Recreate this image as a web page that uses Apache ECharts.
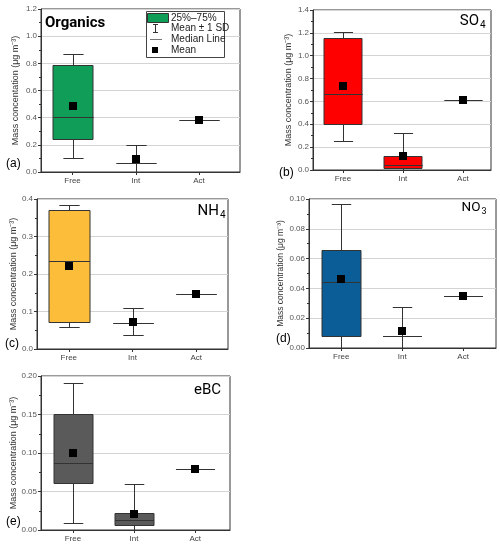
<!DOCTYPE html>
<html><head><meta charset="utf-8">
<script src="https://cdn.jsdelivr.net/npm/echarts@6/dist/echarts.min.js"></script>
<style>html,body{margin:0;padding:0;background:#fff}#c{width:500px;height:546px}</style>
</head><body><div id="c"></div>
<script>
const cats = ['Free', 'Int', 'Act'];

// Organics (a)
const orgQ1 = [0.241, 0.069, 0.385];
const orgMedian = [0.403, 0.069, 0.385];
const orgQ3 = [0.789, 0.069, 0.385];
const orgMean = [0.485, 0.099, 0.386];
const orgSD = [0.384, 0.098, 0];
// SO4 (b)
const so4Q1 = [0.405, 0.015, 0.615];
const so4Median = [0.662, 0.040, 0.615];
const so4Q3 = [1.155, 0.125, 0.615];
const so4Mean = [0.732, 0.122, 0.616];
const so4SD = [0.474, 0.205, 0];
// NH4 (c)
const nh4Q1 = [0.071, 0.070, 0.147];
const nh4Median = [0.234, 0.070, 0.147];
const nh4Q3 = [0.372, 0.070, 0.147];
const nh4Mean = [0.221, 0.073, 0.148];
const nh4SD = [0.163, 0.0355, 0];
// NO3 (d)
const no3Q1 = [0.0081, 0.0081, 0.035];
const no3Median = [0.0444, 0.0081, 0.035];
const no3Q3 = [0.0655, 0.0081, 0.035];
const no3Mean = [0.0462, 0.0112, 0.035];
const no3SD = [0.0507, 0.0166, 0];
// eBC (e)
const ebcQ1 = [0.0615, 0.0069, 0.079];
const ebcMedian = [0.0864, 0.0125, 0.079];
const ebcQ3 = [0.151, 0.022, 0.079];
const ebcMean = [0.1005, 0.0207, 0.079];
const ebcSD = [0.091, 0.0393, 0];

const yTitleA = 'Mass concentation (μg m⁻³)';
const yTitle = 'Mass concentration (μg m⁻³)';

const panels = [
  {q1: orgQ1, med: orgMedian, q3: orgQ3, mean: orgMean, sd: orgSD, color: '#0f9d58',
   grid: {left: 41, top: 9, width: 199, height: 163}, xr: [0.5, 3.65], ymax: 1.2, yint: 0.2, dec: 1,
   yname: yTitleA, nameGap: 21, nameSize: 9},
  {q1: so4Q1, med: so4Median, q3: so4Q3, mean: so4Mean, sd: so4SD, color: '#ff0000',
   grid: {left: 313, top: 10, width: 178, height: 160}, xr: [0.5, 3.47], ymax: 1.4, yint: 0.2, dec: 1,
   yname: yTitle, nameGap: 20, nameSize: 9},
  {q1: nh4Q1, med: nh4Median, q3: nh4Q3, mean: nh4Mean, sd: nh4SD, color: '#fbbd3a',
   grid: {left: 37, top: 199, width: 191, height: 150}, xr: [0.5, 3.5], ymax: 0.4, yint: 0.1, dec: 1,
   yname: yTitle, nameGap: 18.5, nameSize: 9},
  {q1: no3Q1, med: no3Median, q3: no3Q3, mean: no3Mean, sd: no3SD, color: '#0a5d97',
   grid: {left: 309, top: 199, width: 187, height: 149}, xr: [0.47, 3.54], ymax: 0.10, yint: 0.02, dec: 2,
   yname: yTitle, nameGap: 22, nameSize: 8.5},
  {q1: ebcQ1, med: ebcMedian, q3: ebcQ3, mean: ebcMean, sd: ebcSD, color: '#5a5a5a',
   grid: {left: 41, top: 376, width: 189, height: 154}, xr: [0.477, 3.57], ymax: 0.20, yint: 0.05, dec: 2,
   yname: yTitle, nameGap: 21, nameSize: 9}
];

const FONT = 'Liberation Sans, Arial, sans-serif';
const BOXW = 0.64, CAPW = 0.32;

function makeRender(color) {
  return function (params, api) {
    const cs = params.coordSys;
    const yTop = cs.y, yBot = cs.y + cs.height;
    const x = api.value(0);
    const q1 = api.value(1), med = api.value(2), q3 = api.value(3), mean = api.value(4), sd = api.value(5);
    const cx = Math.round(api.coord([x, 0])[0]) + 0.5;
    const hw = api.size([BOXW, 0])[0] / 2;
    const cw = api.size([CAPW, 0])[0] / 2;
    const py = v => Math.round(api.coord([x, v])[1]) + 0.5;
    const clamp = y => Math.max(yTop, Math.min(yBot, y));
    const hiY = py(mean + sd), loY = py(mean - sd);
    const ch = [];
    const ls = {stroke: '#333', lineWidth: 1};
    ch.push({type: 'line', shape: {x1: cx, y1: clamp(hiY), x2: cx, y2: clamp(loY)}, style: ls});
    if (sd > 0) {
      if (hiY >= yTop && hiY <= yBot) ch.push({type: 'line', shape: {x1: cx - cw, y1: hiY, x2: cx + cw, y2: hiY}, style: ls});
      if (loY >= yTop && loY <= yBot) ch.push({type: 'line', shape: {x1: cx - cw, y1: Math.min(loY, yBot - 1.5), x2: cx + cw, y2: Math.min(loY, yBot - 1.5)}, style: ls});
    }
    const t = py(q3), b = py(q1);
    if (b - t > 0.5) {
      ch.push({type: 'rect', shape: {x: Math.round(cx - hw), y: t, width: Math.round(2 * hw), height: b - t},
        style: {fill: color, stroke: '#333', lineWidth: 1}});
    }
    const my = py(med);
    ch.push({type: 'line', shape: {x1: cx - hw, y1: my, x2: cx + hw, y2: my}, style: {stroke: '#333', lineWidth: 1}});
    const mc = api.coord([x, mean]);
    ch.push({type: 'rect', shape: {x: Math.round(mc[0]) - 4, y: Math.round(mc[1]) - 4, width: 8, height: 8}, style: {fill: '#000'}});
    return {type: 'group', children: ch};
  };
}

const grids = [], xAxes = [], yAxes = [], series = [];
panels.forEach((p, i) => {
  grids.push(Object.assign({show: true, borderColor: '#333', borderWidth: 1, backgroundColor: 'transparent'}, p.grid));
  xAxes.push({
    type: 'value', gridIndex: i, min: p.xr[0], max: p.xr[1],
    axisLine: {show: true, lineStyle: {color: '#333'}},
    axisTick: {show: true, customValues: [1, 2, 3], length: 3, lineStyle: {color: '#333'}},
    axisLabel: {show: true, customValues: [1, 2, 3], formatter: v => cats[Math.round(v) - 1], fontSize: 8, color: '#444', margin: 5, fontFamily: FONT},
    splitLine: {show: false}
  });
  yAxes.push({
    type: 'value', gridIndex: i, min: 0, max: p.ymax, interval: p.yint,
    axisLine: {show: true, lineStyle: {color: '#333'}},
    axisTick: {show: true, length: 3, lineStyle: {color: '#333'}},
    minorTick: {show: true, splitNumber: 2, length: 2, lineStyle: {color: '#333'}},
    axisLabel: {fontSize: 8, color: '#555', margin: 4, fontFamily: FONT, formatter: v => v.toFixed(p.dec)},
    splitLine: {show: true, lineStyle: {color: '#d4d4d4', width: 1}},
    name: p.yname, nameLocation: 'middle', nameGap: p.nameGap,
    nameTextStyle: {fontSize: p.nameSize, color: '#333', fontFamily: FONT}
  });
  const data = cats.map((c, k) => [k + 1, p.q1[k], p.med[k], p.q3[k], p.mean[k], p.sd[k]]);
  series.push({type: 'custom', xAxisIndex: i, yAxisIndex: i, renderItem: makeRender(p.color), data: data, clip: true, z: 3});
});

const TF = 'Roboto, "Open Sans", sans-serif';
function txt(x, y, s, size, opts) {
  return Object.assign({type: 'text', x: x, y: y, z: 10,
    style: Object.assign({text: s, fontSize: size, fontFamily: TF, fill: '#000', textAlign: 'left', textVerticalAlign: 'middle'}, opts || {})});
}

const graphics = [
  // titles
  txt(45, 23, 'Organics', 15, {fontWeight: 'bold'}),
  txt(479, 21, 'SO', 15, {textAlign: 'right'}), txt(485.5, 25, '4', 10, {textAlign: 'right'}),
  txt(219, 211, 'NH', 15, {textAlign: 'right'}), txt(225.5, 215, '4', 10, {textAlign: 'right'}),
  txt(480.5, 208, 'NO', 13.5, {textAlign: 'right'}), txt(486.5, 212, '3', 9, {textAlign: 'right'}),
  txt(221, 390, 'eBC', 15, {textAlign: 'right'}),
  // panel labels
  txt(6, 164, '(a)', 12, {fontFamily: FONT}),
  txt(279, 173, '(b)', 12, {fontFamily: FONT}),
  txt(5, 344, '(c)', 12, {fontFamily: FONT}),
  txt(276, 339, '(d)', 12, {fontFamily: FONT}),
  txt(6, 522, '(e)', 12, {fontFamily: FONT}),
  // legend
  {type: 'rect', z: 9, shape: {x: 146.5, y: 11.5, width: 78, height: 46}, style: {fill: '#fff', stroke: '#444', lineWidth: 1}},
  {type: 'rect', z: 10, shape: {x: 147.5, y: 13.5, width: 21, height: 9}, style: {fill: '#0f9d58', stroke: '#333', lineWidth: 1}},
  {type: 'line', z: 10, shape: {x1: 155.5, y1: 24.5, x2: 155.5, y2: 32.5}, style: {stroke: '#333', lineWidth: 1}},
  {type: 'line', z: 10, shape: {x1: 153, y1: 24.5, x2: 158, y2: 24.5}, style: {stroke: '#333', lineWidth: 1}},
  {type: 'line', z: 10, shape: {x1: 153, y1: 32.5, x2: 158, y2: 32.5}, style: {stroke: '#333', lineWidth: 1}},
  {type: 'line', z: 10, shape: {x1: 150, y1: 39.5, x2: 162, y2: 39.5}, style: {stroke: '#777', lineWidth: 1}},
  {type: 'rect', z: 10, shape: {x: 152, y: 47, width: 6, height: 6}, style: {fill: '#000'}},
  txt(171, 18, '25%–75%', 10, {fontFamily: FONT, fill: '#222'}),
  txt(171, 28.5, 'Mean ± 1 SD', 10, {fontFamily: FONT, fill: '#222'}),
  txt(171, 39.5, 'Median Line', 10, {fontFamily: FONT, fill: '#222'}),
  txt(171, 50.5, 'Mean', 10, {fontFamily: FONT, fill: '#222'})
];

const chart = echarts.init(document.getElementById('c'), null, {renderer: 'canvas'});
chart.setOption({
  animation: false,
  backgroundColor: '#fff',
  grid: grids, xAxis: xAxes, yAxis: yAxes, series: series,
  graphic: graphics
});
</script></body></html>
